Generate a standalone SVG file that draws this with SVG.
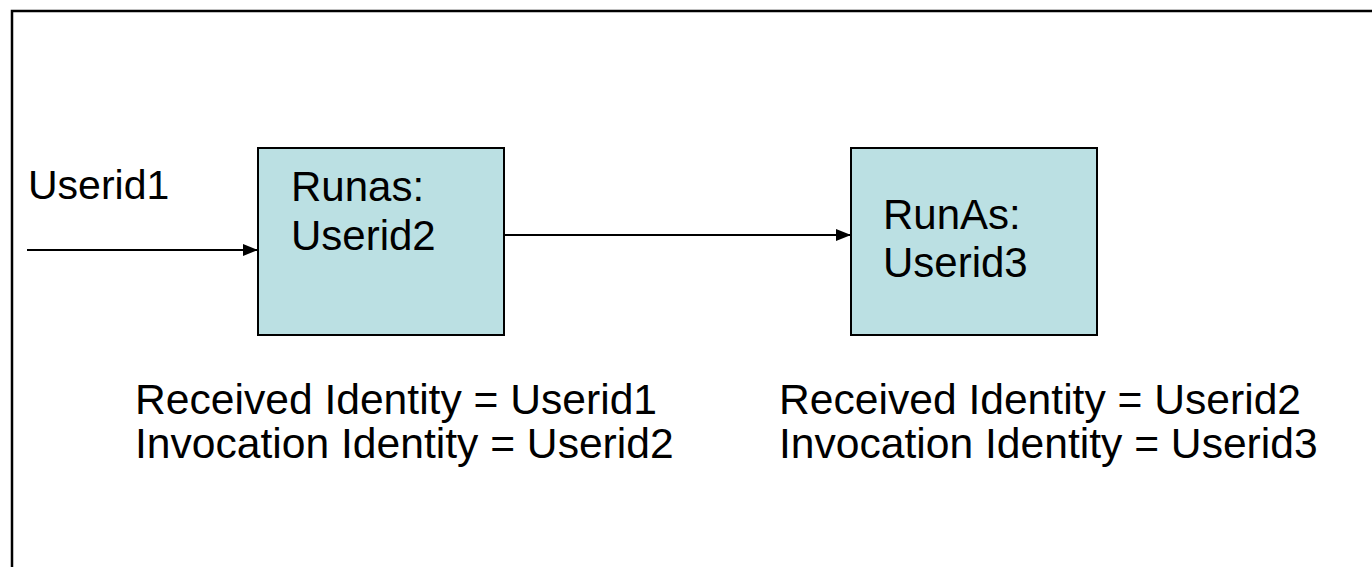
<svg xmlns="http://www.w3.org/2000/svg" width="1372" height="567" viewBox="0 0 1372 567">
<style>
.frame{fill:none;stroke:#000;stroke-width:2.5}
.box{fill:#BBE0E3;stroke:#000;stroke-width:2}
.t{font-family:"Liberation Sans",Arial,sans-serif;font-size:42px;fill:#000}
.s{font-size:41px}
.cap{font-size:42.6px}
.c{stroke:#000;stroke-width:1.8;fill:none}
</style>
<defs>
<marker id="ah" viewBox="0 0 15 12" refX="15" refY="6" markerWidth="15" markerHeight="12" markerUnits="userSpaceOnUse" orient="auto">
<path d="M0,0 L15,6 L0,12 Z" fill="#000"/>
</marker>
</defs>
<rect class="frame" x="12" y="11" width="1400" height="600"/>
<g id="connectors">
<line class="c" x1="27" y1="250" x2="258" y2="250" marker-end="url(#ah)"/>
<line class="c" x1="504" y1="235" x2="851" y2="235" marker-end="url(#ah)"/>
</g>
<g id="input-label">
<text class="t s" x="28" y="199">Userid1</text>
</g>
<g id="node1">
<rect class="box" x="258" y="148" width="246" height="187"/>
<text class="t" x="291" y="201">Runas:</text>
<text class="t" x="291" y="250">Userid2</text>
</g>
<g id="node2">
<rect class="box" x="851" y="148" width="246" height="187"/>
<text class="t" x="883" y="229">RunAs:</text>
<text class="t" x="883" y="277">Userid3</text>
</g>
<g id="caption1">
<text class="t cap" x="135" y="414">Received Identity = Userid1</text>
<text class="t cap" x="135" y="458">Invocation Identity = Userid2</text>
</g>
<g id="caption2">
<text class="t cap" x="779" y="414">Received Identity = Userid2</text>
<text class="t cap" x="779" y="458">Invocation Identity = Userid3</text>
</g>
</svg>
